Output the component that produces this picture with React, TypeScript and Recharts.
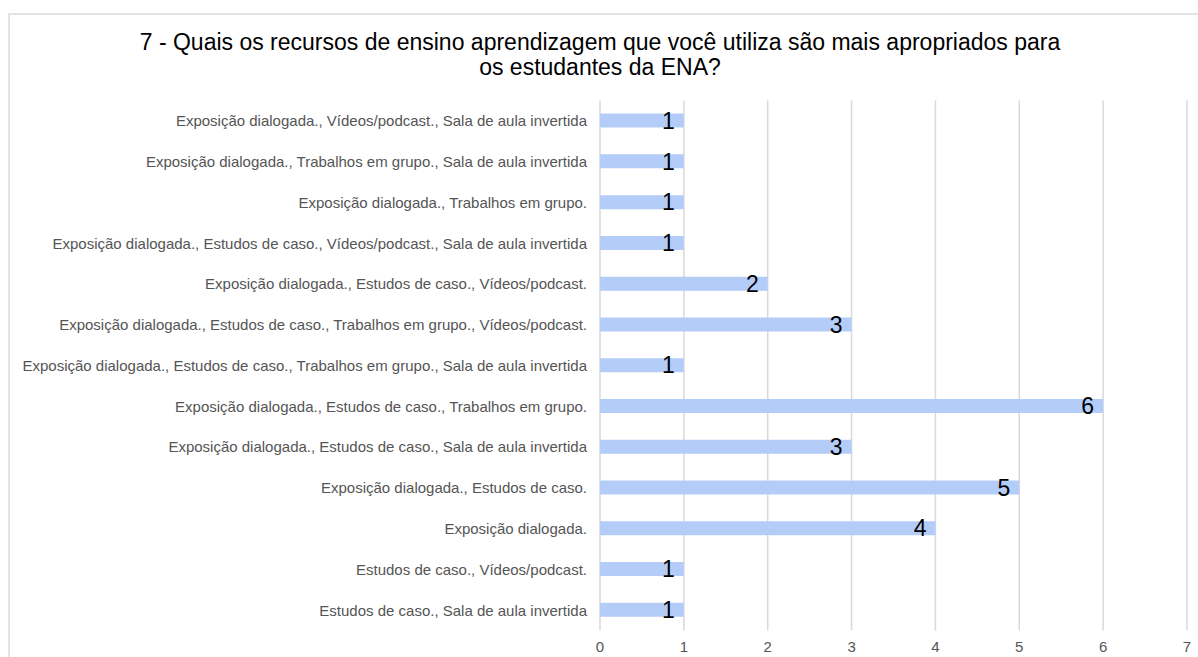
import React from 'react';
import { BarChart, Bar, XAxis, YAxis, CartesianGrid, LabelList } from 'recharts';

const categories = [
  'Exposição dialogada., Vídeos/podcast., Sala de aula invertida',
  'Exposição dialogada., Trabalhos em grupo., Sala de aula invertida',
  'Exposição dialogada., Trabalhos em grupo.',
  'Exposição dialogada., Estudos de caso., Vídeos/podcast., Sala de aula invertida',
  'Exposição dialogada., Estudos de caso., Vídeos/podcast.',
  'Exposição dialogada., Estudos de caso., Trabalhos em grupo., Vídeos/podcast.',
  'Exposição dialogada., Estudos de caso., Trabalhos em grupo., Sala de aula invertida',
  'Exposição dialogada., Estudos de caso., Trabalhos em grupo.',
  'Exposição dialogada., Estudos de caso., Sala de aula invertida',
  'Exposição dialogada., Estudos de caso.',
  'Exposição dialogada.',
  'Estudos de caso., Vídeos/podcast.',
  'Estudos de caso., Sala de aula invertida',
];

const counts = [1, 1, 1, 1, 2, 3, 1, 6, 3, 5, 4, 1, 1];

const xTicks = [0, 1, 2, 3, 4, 5, 6, 7];

const titleLines = [
  '7 - Quais os recursos de ensino aprendizagem que você utiliza são mais apropriados para',
  'os estudantes da ENA?',
];

const data = categories.map((name, i) => ({ name, value: counts[i] }));

const FONT = '"Liberation Sans", Arial, Helvetica, sans-serif';

export default function App() {
  return (
    <div
      style={{
        position: 'absolute',
        left: 0,
        top: 0,
        width: 1198,
        height: 657,
        overflow: 'hidden',
        background: '#fff',
        fontFamily: FONT,
      }}
    >
      <div
        style={{
          position: 'absolute',
          left: 8,
          top: 13,
          width: 1400,
          height: 900,
          border: '2px solid #e3e3e3',
          boxSizing: 'border-box',
        }}
      />
      <div
        style={{
          position: 'absolute',
          left: 0,
          top: 30,
          width: 1200,
          textAlign: 'center',
          fontSize: 23,
          lineHeight: '25px',
          color: '#000',
        }}
      >
        {titleLines.map((l, i) => (
          <div key={i}>{l}</div>
        ))}
      </div>
      <div style={{ position: 'absolute', left: 0, top: 0 }}>
        <BarChart
          width={1198}
          height={657}
          data={data}
          layout="vertical"
          margin={{ top: 100.6, right: 11, bottom: 0, left: 0 }}
        >
          <CartesianGrid horizontal={false} stroke="#d9d9d9" strokeWidth={1.5} />
          <XAxis
            type="number"
            domain={[0, 7]}
            ticks={xTicks}
            axisLine={false}
            tickLine={false}
            tickSize={0}
            tickMargin={11}
            height={26.4}
            tick={{ fill: '#555', fontSize: 15, fontFamily: FONT }}
          />
          <YAxis
            type="category"
            dataKey="name"
            width={600}
            axisLine={false}
            tickLine={false}
            tickSize={0}
            tickMargin={13}
            interval={0}
            tick={{ fill: '#555', fontSize: 15, fontFamily: FONT }}
          />
          <Bar dataKey="value" fill="#b4cdf8" barSize={14} isAnimationActive={false}>
            <LabelList
              dataKey="value"
              position="insideRight"
              offset={9}
              style={{ fill: '#000', fontSize: 23, fontFamily: FONT }}
            />
          </Bar>
        </BarChart>
      </div>
    </div>
  );
}
